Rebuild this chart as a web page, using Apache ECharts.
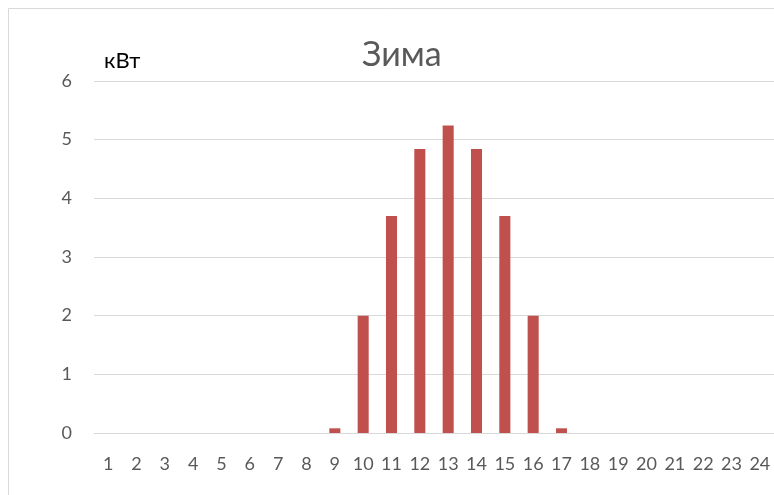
<!DOCTYPE html>
<html>
<head>
<meta charset="utf-8">
<script src="https://cdn.jsdelivr.net/npm/echarts@6/dist/echarts.min.js"></script>
<style>
  html, body { margin: 0; padding: 0; background: #fff; }
  #chart { width: 774px; height: 495px; }
</style>
</head>
<body>
<div id="chart"></div>
<script>
// Hours of the day
const hours = ['1','2','3','4','5','6','7','8','9','10','11','12','13','14','15','16','17','18','19','20','21','22','23','24'];
// Winter generation per hour, kW
const power = [0,0,0,0,0,0,0,0,0.08,2.0,3.7,4.84,5.24,4.84,3.7,2.0,0.08,0,0,0,0,0,0,0];
const titleText = 'Зима';
const unitText = 'кВт';

const chart = echarts.init(document.getElementById('chart'), null, { renderer: 'canvas' });
const font = 'Lato, "Open Sans", sans-serif';

chart.setOption({
  backgroundColor: '#ffffff',
  animation: false,
  title: {
    text: titleText,
    left: 357,
    top: 33,
    textStyle: { fontFamily: font, fontSize: 34, fontWeight: 'normal', color: '#595959' }
  },
  graphic: [
    {
      type: 'rect',
      shape: { x: 8.5, y: 8.5, width: 780, height: 500 },
      style: { fill: 'none', stroke: '#d9d9d9', lineWidth: 1 },
      silent: true
    },
    {
      type: 'text',
      left: 104,
      top: 50,
      style: { text: unitText, fontFamily: font, fontSize: 22, fill: '#000000' }
    }
  ],
  grid: { left: 94, right: 0, top: 81, bottom: 62, containLabel: false },
  xAxis: {
    type: 'category',
    data: hours,
    axisLine: { lineStyle: { color: '#d9d9d9', width: 1 } },
    axisTick: { show: false },
    axisLabel: { interval: 0, margin: 22, fontFamily: font, fontSize: 18, color: '#595959' }
  },
  yAxis: {
    type: 'value',
    min: 0,
    max: 6,
    interval: 1,
    axisLine: { show: false },
    axisTick: { show: false },
    splitLine: { lineStyle: { color: '#d9d9d9', width: 1 } },
    axisLabel: { margin: 22, fontFamily: font, fontSize: 18, color: '#595959' }
  },
  series: [{
    type: 'bar',
    data: power,
    barWidth: '39%',
    itemStyle: { color: '#C0504D' }
  }]
});
</script>
</body>
</html>
